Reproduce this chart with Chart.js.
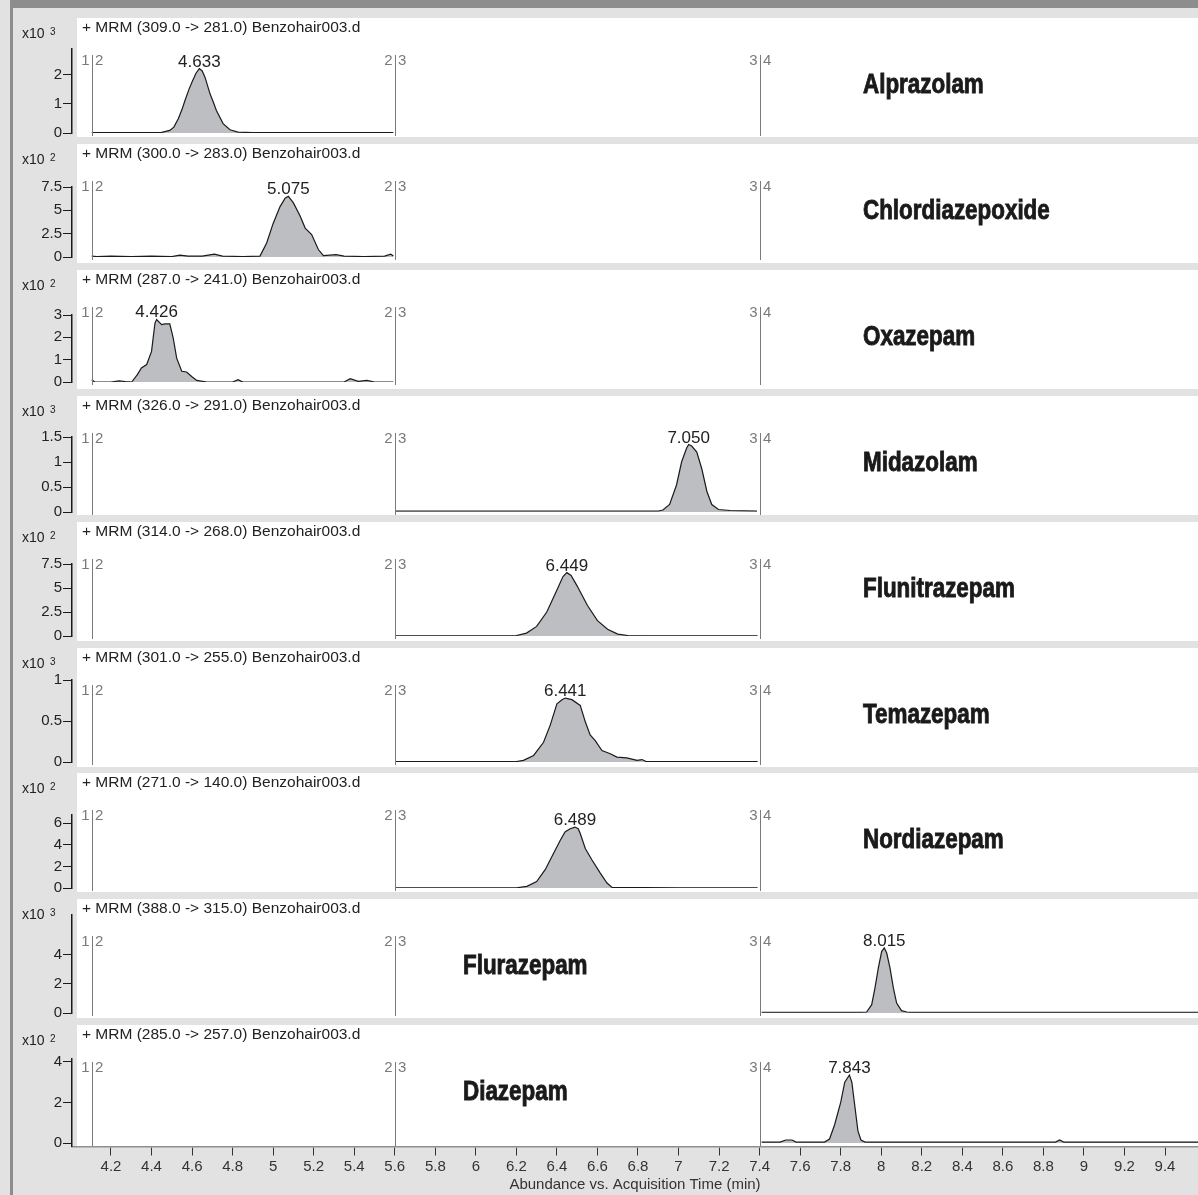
<!DOCTYPE html>
<html>
<head>
<meta charset="utf-8">
<title>Benzodiazepine MRM chromatograms</title>
<script src="https://cdn.jsdelivr.net/npm/chart.js@4.4.1/dist/chart.umd.min.js"></script>
<style>
  body { margin: 0; background: #e2e2e2; }
  #page { position: relative; width: 1198px; height: 1195px; overflow: hidden; background: #e2e2e2; }
  #page canvas { position: absolute; left: 0; }
  #topband { position: absolute; left: 10px; top: 0; width: 1188px; height: 8px; background: #8d8d8d; }
  #leftband { position: absolute; left: 10px; top: 0; width: 3px; height: 1195px; background: #8d8d8d; }
</style>
</head>
<body>
<div id="page">
  <div id="topband"></div>
  <div id="leftband"></div>
</div>
<script>
// time axis (min)
const xMin = 4.0076;
const xMax = 9.5628;
const xTicks = [4.2, 4.4, 4.6, 4.8, 5, 5.2, 5.4, 5.6, 5.8, 6, 6.2, 6.4, 6.6, 6.8, 7, 7.2, 7.4, 7.6, 7.8, 8, 8.2, 8.4, 8.6, 8.8, 9, 9.2, 9.4];
const segmentStarts = [4.105, 5.6, 7.4];
const segmentNames = [["1", "2"], ["2", "3"], ["3", "4"]];

const compounds = ["Alprazolam", "Chlordiazepoxide", "Oxazepam", "Midazolam", "Flunitrazepam", "Temazepam", "Nordiazepam", "Flurazepam", "Diazepam"];
const transitions = ["309.0 -> 281.0", "300.0 -> 283.0", "287.0 -> 241.0", "326.0 -> 291.0", "314.0 -> 268.0", "301.0 -> 255.0", "271.0 -> 140.0", "388.0 -> 315.0", "285.0 -> 257.0"];
const exponents = [3, 2, 2, 3, 2, 3, 2, 3, 2];
const peakLabels = ["4.633", "5.075", "4.426", "7.050", "6.449", "6.441", "6.489", "8.015", "7.843"];
const yTicks = [[0, 1, 2], [0, 2.5, 5, 7.5], [0, 1, 2, 3], [0, 0.5, 1, 1.5], [0, 2.5, 5, 7.5], [0, 0.5, 1], [0, 2, 4, 6], [0, 2, 4], [0, 2, 4]];
const yMin = [0, 0, 0, 0, 0, 0, 0, 0, -0.17];
const yMax = [2.87, 7.5, 3, 1.5, 7.5, 1, 6.77, 6.7, 4.14];

// traces (abundance in units of the panel's x10^n)
const alprazolamX = [4.105, 4.30, 4.45, 4.49, 4.51, 4.532, 4.55, 4.565, 4.585, 4.603, 4.62, 4.636, 4.65, 4.664, 4.689, 4.705, 4.72, 4.753, 4.787, 4.827, 4.90, 5.20, 5.593];
const alprazolamY = [0.01, 0.01, 0.02, 0.09, 0.2, 0.49, 0.8, 1.11, 1.5, 1.79, 2.05, 2.2, 2.12, 1.9, 1.33, 1.05, 0.77, 0.32, 0.11, 0.03, 0.01, 0.01, 0.01];

const chlordiazepoxideX = [4.105, 4.13, 4.2, 4.3, 4.4, 4.5, 4.54, 4.58, 4.65, 4.71, 4.75, 4.85, 4.935, 4.968, 5.0, 5.034, 5.059, 5.075, 5.1, 5.133, 5.158, 5.19, 5.223, 5.248, 5.28, 5.31, 5.35, 5.45, 5.55, 5.58, 5.593];
const chlordiazepoxideY = [0.1, 0.05, 0.1, 0.05, 0.1, 0.05, 0.2, 0.1, 0.1, 0.3, 0.1, 0.05, 0.1, 1.5, 3.6, 5.4, 6.3, 6.5, 5.8, 4.4, 3.1, 2.4, 0.8, 0.15, 0.2, 0.25, 0.1, 0.05, 0.1, 0.3, 0.1];

const oxazepamX = [4.105, 4.12, 4.2, 4.24, 4.27, 4.302, 4.33, 4.35, 4.376, 4.4, 4.417, 4.425, 4.45, 4.467, 4.49, 4.507, 4.524, 4.549, 4.573, 4.598, 4.623, 4.672, 4.80, 4.827, 4.85, 5.35, 5.38, 5.42, 5.462, 5.5, 5.593];
const oxazepamY = [0.1, 0.0, 0.0, 0.05, 0.02, 0.0, 0.33, 0.63, 0.78, 1.37, 2.64, 2.8, 2.57, 2.6, 2.6, 1.97, 1.07, 0.48, 0.45, 0.25, 0.07, 0.0, 0.0, 0.1, 0.0, 0.0, 0.15, 0.03, 0.07, 0.0, 0.0];

const midazolamX = [5.605, 6.5, 6.90, 6.923, 6.956, 6.99, 7.015, 7.04, 7.05, 7.065, 7.09, 7.115, 7.14, 7.164, 7.197, 7.255, 7.387];
const midazolamY = [0.02, 0.02, 0.02, 0.04, 0.15, 0.54, 1.0, 1.28, 1.35, 1.32, 1.2, 0.86, 0.41, 0.15, 0.05, 0.03, 0.02];

const flunitrazepamX = [5.605, 6.15, 6.2, 6.25, 6.3, 6.35, 6.4, 6.43, 6.449, 6.47, 6.5, 6.55, 6.6, 6.65, 6.7, 6.75, 7.0, 7.39];
const flunitrazepamY = [0.02, 0.02, 0.05, 0.3, 1.0, 2.5, 4.8, 6.2, 6.6, 6.3, 5.2, 3.2, 1.6, 0.7, 0.2, 0.05, 0.02, 0.02];

const temazepamX = [5.605, 6.2, 6.235, 6.285, 6.334, 6.367, 6.4, 6.425, 6.441, 6.457, 6.474, 6.515, 6.54, 6.564, 6.589, 6.622, 6.663, 6.696, 6.745, 6.795, 6.82, 6.84, 7.39];
const temazepamY = [0.005, 0.005, 0.02, 0.08, 0.24, 0.45, 0.71, 0.76, 0.78, 0.77, 0.76, 0.69, 0.49, 0.33, 0.26, 0.14, 0.1, 0.06, 0.05, 0.02, 0.03, 0.005, 0.005];

const nordiazepamX = [5.605, 6.2, 6.252, 6.3, 6.342, 6.383, 6.416, 6.44, 6.465, 6.489, 6.505, 6.515, 6.54, 6.573, 6.614, 6.647, 6.672, 7.0, 7.39];
const nordiazepamY = [0.02, 0.02, 0.15, 0.6, 1.7, 3.2, 4.4, 5.2, 5.5, 5.65, 5.5, 5.05, 3.67, 2.6, 1.38, 0.46, 0.05, 0.02, 0.02];

const flurazepamX = [7.41, 7.9, 7.928, 7.953, 7.969, 7.986, 8.002, 8.015, 8.027, 8.043, 8.06, 8.076, 8.1, 8.126, 8.14, 9.0, 9.6];
const flurazepamY = [0.05, 0.05, 0.07, 0.57, 1.7, 3.1, 4.2, 4.45, 4.1, 3.1, 1.7, 0.68, 0.16, 0.07, 0.05, 0.05, 0.05];

const diazepamX = [7.41, 7.5, 7.53, 7.56, 7.58, 7.72, 7.745, 7.77, 7.80, 7.82, 7.843, 7.855, 7.87, 7.885, 7.90, 7.92, 8.86, 8.88, 8.90, 9.6];
const diazepamY = [0.05, 0.05, 0.15, 0.15, 0.05, 0.05, 0.2, 0.9, 2.0, 3.0, 3.35, 3.0, 1.8, 0.6, 0.15, 0.05, 0.05, 0.15, 0.05, 0.05];

const seriesX = [alprazolamX, chlordiazepoxideX, oxazepamX, midazolamX, flunitrazepamX, temazepamX, nordiazepamX, flurazepamX, diazepamX];
const seriesY = [alprazolamY, chlordiazepoxideY, oxazepamY, midazolamY, flunitrazepamY, temazepamY, nordiazepamY, flurazepamY, diazepamY];

// layout of the stacked panels (px)
const panelTop = [18, 144, 270, 396, 522, 648, 773, 899, 1025];
const areaTop = [31, 43, 45, 41, 42, 32, 42, 16, 34];
const areaBottom = [115, 113, 112, 116, 114, 114, 115, 114, 121.5];
const nameLeft = [863, 863, 863, 863, 863, 863, 863, 463, 463];

Chart.defaults.font.family = "'Liberation Sans', Arial, sans-serif";
Chart.defaults.color = "#222";

function panelPlugin(i) {
    return {
        id: "panel" + i,
        beforeDraw(chart) {
            const ctx = chart.ctx;
            ctx.save();
            ctx.fillStyle = "#ffffff";
            ctx.fillRect(77, 0, 1198 - 77, i == 8 ? 121.5 : 119);
            ctx.restore();
        },
        afterDraw(chart) {
            const ctx = chart.ctx;
            const xs = chart.scales.x;
            const ys = chart.scales.y;
            ctx.save();

            //segment dividers with their labels
            ctx.strokeStyle = "#7a7a7a";
            ctx.lineWidth = 1;
            ctx.fillStyle = "#7a7a7a";
            ctx.font = "15px 'Liberation Sans'";
            ctx.textBaseline = "alphabetic";
            for (let s = 0; s < segmentStarts.length; s++) {
                const px = Math.round(xs.getPixelForValue(segmentStarts[s])) + 0.5;
                ctx.beginPath();
                ctx.moveTo(px, 37);
                ctx.lineTo(px, ys.getPixelForValue(0) + 3);
                ctx.stroke();
                ctx.textAlign = "right";
                ctx.fillText(segmentNames[s][0], px - 3, 47);
                ctx.textAlign = "left";
                ctx.fillText(segmentNames[s][1], px + 2.5, 47);
            }

            // header line
            ctx.fillStyle = "#222";
            ctx.textAlign = "left";
            ctx.font = "15.5px 'Liberation Sans'";
            ctx.fillText("+ MRM (" + transitions[i] + ") Benzohair003.d", 82, 14);

            // multiplier x10^n
            ctx.font = "14px 'Liberation Sans'";
            ctx.fillText("x10", 22, 20);
            ctx.font = "10px 'Liberation Sans'";
            ctx.fillText(String(exponents[i]), 50, 17);

            // retention time over the apex
            const ys_ = seriesY[i];
            let top = 0;
            for (let k = 1; k < ys_.length; k++) {
                if (ys_[k] > ys_[top]) top = k;
            }
            ctx.font = "17px 'Liberation Sans'";
            ctx.textAlign = "center";
            ctx.fillText(peakLabels[i], xs.getPixelForValue(seriesX[i][top]), ys.getPixelForValue(ys_[top]) - 2);

            // compound name, squeezed to a condensed width
            ctx.font = "bold 27px 'Liberation Sans'";
            ctx.textAlign = "left";
            ctx.fillStyle = "#1a1a1a";
            ctx.strokeStyle = "#1a1a1a";
            ctx.lineWidth = 0.9;
            const w = ctx.measureText(compounds[i]).width * 0.83;
            ctx.fillText(compounds[i], nameLeft[i], 75, w);
            ctx.strokeText(compounds[i], nameLeft[i], 75, w);
            ctx.restore();
        }
    };
}

const page = document.getElementById("page");
for (let i = 0; i < compounds.length; i++) {
    const last = i == compounds.length - 1;
    const cv = document.createElement("canvas");
    const h = last ? 1195 - panelTop[i] : 126;
    cv.width = 1198;
    cv.height = h;
    cv.style.top = panelTop[i] + "px";
    page.appendChild(cv);

    const points = seriesX[i].map((x, k) => ({ x: x, y: seriesY[i][k] }));

    new Chart(cv, {
        type: "line",
        data: {
            datasets: [{
                data: points,
                borderColor: "#1a1a1a",
                borderWidth: 1.2,
                backgroundColor: "#bdbec2",
                fill: "origin",
                pointRadius: 0,
                tension: 0
            }]
        },
        options: {
            responsive: false,
            animation: false,
            events: [],
            layout: {
                padding: { top: areaTop[i], bottom: last ? 0 : h - areaBottom[i], left: 0, right: 0 }
            },
            plugins: {
                legend: { display: false },
                tooltip: { enabled: false }
            },
            scales: {
                x: {
                    type: "linear",
                    min: xMin,
                    max: xMax,
                    display: last,
                    afterBuildTicks: (s) => { s.ticks = xTicks.map(v => ({ value: v })); },
                    afterFit: (s) => { if (last) s.height = 48.5; },
                    border: { color: "#8f8f8f", width: 1.5 },
                    grid: { drawOnChartArea: false, tickLength: 9, color: "#333" },
                    ticks: {
                        autoSkip: false, maxRotation: 0, padding: 2, color: "#333",
                        font: { size: 15 },
                        callback: (v) => String(v)
                    },
                    title: {
                        display: true,
                        text: "Abundance vs. Acquisition Time (min)",
                        color: "#333",
                        font: { size: 15 },
                        padding: { top: 0, bottom: 1 }
                    }
                },
                y: {
                    min: yMin[i],
                    max: yMax[i],
                    afterBuildTicks: (s) => { s.ticks = yTicks[i].map(v => ({ value: v })); },
                    afterFit: (s) => { s.width = 72; },
                    border: { color: "#1a1a1a", width: 1.5 },
                    grid: { drawOnChartArea: false, tickLength: 9, color: "#1a1a1a" },
                    ticks: {
                        padding: 1, color: "#222",
                        font: { size: 15 },
                        callback: (v) => String(v)
                    }
                }
            }
        },
        plugins: [panelPlugin(i)]
    });
}
</script>
</body>
</html>
